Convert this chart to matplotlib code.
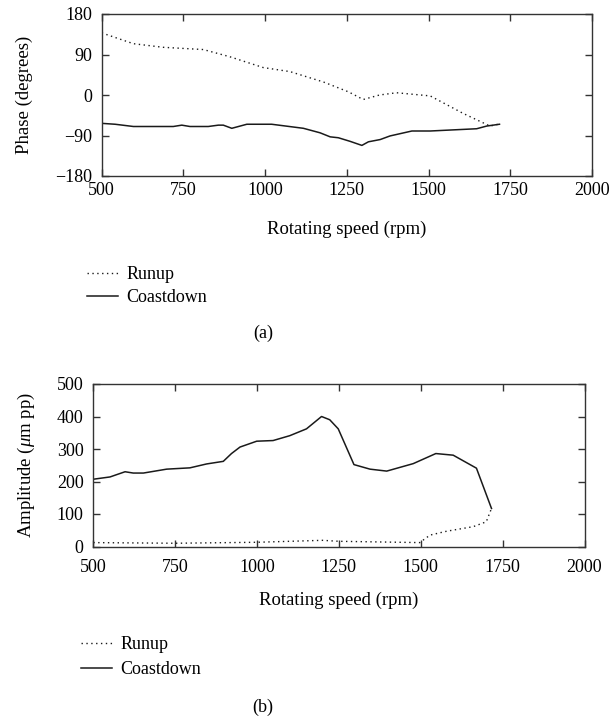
import matplotlib
matplotlib.use("Agg")
import matplotlib.pyplot as plt

plt.rcParams['font.family'] = ['Liberation Serif', 'DejaVu Serif']
plt.rcParams['font.size'] = 13
plt.rcParams['mathtext.fontset'] = 'custom'
plt.rcParams['mathtext.rm'] = 'Liberation Serif'
plt.rcParams['mathtext.it'] = 'Liberation Serif:italic'

# ---- data ----
phase_runup_rpm = [500, 597, 688, 811, 892, 994, 1076, 1178, 1255, 1300, 1350, 1402, 1505, 1606, 1688, 1713]
phase_runup_deg = [138, 114, 106, 101, 85, 61, 52, 29, 7, -10, 0, 5, -2, -41, -69, -65]

phase_coast_rpm = [500, 541, 597, 719, 745, 770, 826, 857, 872, 898, 944, 1020, 1117, 1168, 1199, 1224,
                   1260, 1296, 1316, 1352, 1382, 1449, 1505, 1647, 1678, 1717]
phase_coast_deg = [-63, -65, -70, -70, -67, -70, -70, -67, -67, -74, -65, -65, -74, -84, -93, -95,
                   -103, -112, -104, -99, -91, -80, -80, -75, -69, -65]

amp_coast_rpm = [500, 551, 571, 597, 622, 653, 724, 795, 846, 897, 922, 948, 999, 1049, 1100, 1151,
                 1197, 1222, 1248, 1296, 1345, 1396, 1477, 1546, 1599, 1670, 1716]
amp_coast_um = [207, 214, 221, 230, 226, 226, 238, 242, 254, 262, 286, 306, 324, 326, 341, 362,
                400, 390, 362, 252, 238, 232, 255, 286, 281, 241, 117]

amp_runup_rpm = [500, 750, 1000, 1200, 1250, 1497, 1528, 1579, 1660, 1700, 1714]
amp_runup_um = [12, 10, 13, 19, 16, 12, 35, 47, 61, 76, 112]

xticks = [500, 750, 1000, 1250, 1500, 1750, 2000]
phase_ticks = [-180, -90, 0, 90, 180]
amp_ticks = [0, 100, 200, 300, 400, 500]

W, H = 613, 721
fig = plt.figure(figsize=(W / 100, H / 100), dpi=100)

spine_col = '#333333'
line_col = '#1a1a1a'


def style(ax, xpad):
    for s in ax.spines.values():
        s.set_color(spine_col)
        s.set_linewidth(1.0)
    ax.tick_params(direction='in', length=5, width=1.0, color=spine_col,
                   top=True, right=True, labelsize=13)
    ax.tick_params(axis='x', pad=xpad)
    ax.tick_params(axis='y', pad=7)


def frac(l, t, r, b):
    return [l / W, 1 - b / H, (r - l) / W, (b - t) / H]


# (a) phase
ax1 = fig.add_axes(frac(101.7, 14, 592, 176))
ax1.plot(phase_runup_rpm, phase_runup_deg, linestyle=(0, (1, 2.5)), color=line_col, lw=1.0, label='Runup')
ax1.plot(phase_coast_rpm, phase_coast_deg, linestyle='-', color=line_col, lw=1.1, label='Coastdown')
ax1.set_xlim(500, 2000)
ax1.set_ylim(-180, 180)
ax1.set_xticks(xticks)
ax1.set_yticks(phase_ticks)
style(ax1, 4)
ax1.set_xlabel('Rotating speed (rpm)', fontsize=13.5, labelpad=16)
ax1.set_ylabel('Phase (degrees)', fontsize=13.5, labelpad=16)
ax1.legend(loc='upper left', bbox_to_anchor=(78 / W, 1 - 257 / H), bbox_transform=fig.transFigure,
           frameon=False, borderpad=0, handlelength=1.7, handletextpad=0.5, labelspacing=0.35,
           fontsize=13)
fig.text(263 / W, 1 - 333 / H, '(a)', ha='center', va='center', fontsize=13)

# (b) amplitude
ax2 = fig.add_axes(frac(93.3, 384, 584.5, 546.5))
ax2.plot(amp_runup_rpm, amp_runup_um, linestyle=(0, (1, 2.5)), color=line_col, lw=1.0, label='Runup')
ax2.plot(amp_coast_rpm, amp_coast_um, linestyle='-', color=line_col, lw=1.1, label='Coastdown')
ax2.set_xlim(500, 2000)
ax2.set_ylim(0, 500)
ax2.set_xticks(xticks)
ax2.set_yticks(amp_ticks)
style(ax2, 9)
ax2.set_xlabel('Rotating speed (rpm)', fontsize=13.5, labelpad=11)
ax2.set_ylabel(r'Amplitude ($\mu$m pp)', fontsize=13.5, labelpad=14)
ax2.legend(loc='upper left', bbox_to_anchor=(72 / W, 1 - 627 / H), bbox_transform=fig.transFigure,
           frameon=False, borderpad=0, handlelength=1.7, handletextpad=0.5, labelspacing=0.45,
           fontsize=13)
fig.text(263 / W, 1 - 707 / H, '(b)', ha='center', va='center', fontsize=13)

fig.savefig('out.png', dpi=100)
